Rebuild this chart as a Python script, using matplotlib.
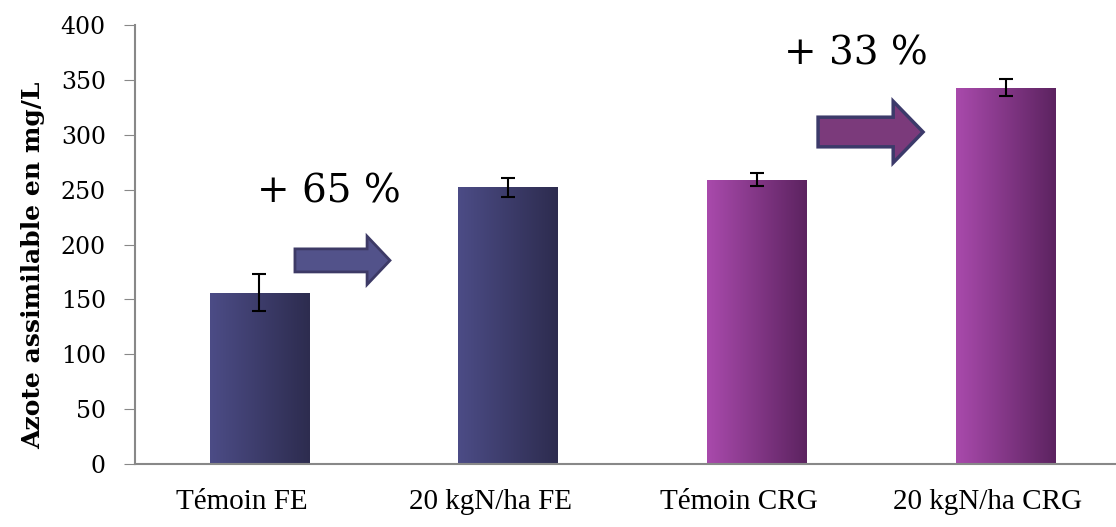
import matplotlib.pyplot as plt
import numpy as np
import matplotlib.transforms as mtransforms
from matplotlib.patches import FancyArrow
from matplotlib.colors import LinearSegmentedColormap

# data
categories = ["Témoin FE", "20 kgN/ha FE", "Témoin CRG", "20 kgN/ha CRG"]
values = [156, 252, 259, 343]
errors = [17, 8.5, 6, 8]
yticks = [0, 50, 100, 150, 200, 250, 300, 350, 400]

# gradient colours (left -> right) for each bar
grad_fe = ["#4c4c86", "#2d2c4f"]
grad_crg = ["#a94aac", "#5c2360"]
bar_grads = [grad_fe, grad_fe, grad_crg, grad_crg]

fig = plt.figure(figsize=(11.16, 5.27), dpi=100)
ax = fig.add_axes([135 / 1116, 63 / 527, 995 / 1116, 439 / 527])

x = np.arange(len(categories))
bars = ax.bar(x, values, width=0.4, color="none", edgecolor="none", zorder=2)

# fill each bar with a horizontal gradient clipped to the bar
for b, g in zip(bars, bar_grads):
    cmap = LinearSegmentedColormap.from_list("g", g)
    x0, w, h = b.get_x(), b.get_width(), b.get_height()
    img = ax.imshow(np.linspace(0, 1, 256).reshape(1, -1), cmap=cmap, aspect="auto",
                    extent=[x0, x0 + w, 0, h], zorder=2)
    img.set_clip_path(b)

ax.errorbar(x, values, yerr=errors, fmt="none", ecolor="black", elinewidth=1.5,
            capsize=5, capthick=1.5, zorder=3)

ax.set_xlim(-0.5, 3.5)
ax.set_ylim(0, 400)
ax.set_yticks(yticks)
ax.set_xticks(x)
ax.set_xticklabels(categories, family="Liberation Serif", fontsize=21)
ax.tick_params(axis="x", length=0, pad=18)
ax.tick_params(axis="y", direction="out", length=8, color="#888888", pad=13, labelsize=17)
# category labels sit a little left of the bar centres in the original
shift = mtransforms.ScaledTranslation(-18 / 100, 0, fig.dpi_scale_trans)
for lab in ax.get_xticklabels():
    lab.set_transform(lab.get_transform() + shift)
for lab in ax.get_yticklabels():
    lab.set_family("DejaVu Serif")
for s in ["top", "right"]:
    ax.spines[s].set_visible(False)
for s in ["left", "bottom"]:
    ax.spines[s].set_color("#888888")
    ax.spines[s].set_linewidth(1.5)

ax.set_ylabel("Azote assimilable en mg/L", family="DejaVu Serif", fontweight="bold",
              fontsize=18)
ax.yaxis.set_label_coords(-0.09, 0.453)

# arrows and percentage annotations
ax.add_patch(FancyArrow(0.143, 185.5, 0.382, 0, width=21, head_width=44, head_length=0.092,
                        length_includes_head=True, facecolor="#52528a", edgecolor="#3d3a66",
                        linewidth=2, zorder=4, clip_on=False))
ax.add_patch(FancyArrow(2.246, 302.5, 0.422, 0, width=27, head_width=56, head_length=0.12,
                        length_includes_head=True, facecolor="#7b3a7b", edgecolor="#3c3a6a",
                        linewidth=2.5, zorder=4, clip_on=False))
ax.text(0.28, 248, "+ 65 %", family="DejaVu Serif", fontsize=28, ha="center", va="center")
ax.text(2.40, 374, "+ 33 %", family="DejaVu Serif", fontsize=28, ha="center", va="center")

fig.savefig("out.png", dpi=100)
